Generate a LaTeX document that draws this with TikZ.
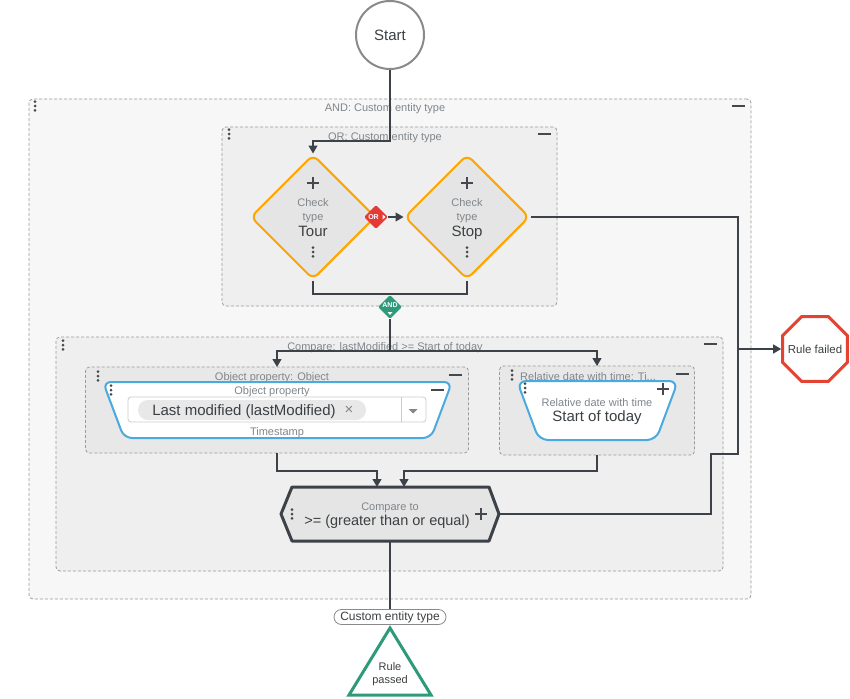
\documentclass[tikz,border=0pt]{standalone}
\usepackage{fontspec}
\setmainfont{Liberation Sans}
\usetikzlibrary{shapes.geometric,arrows.meta}
\definecolor{lin}{HTML}{3C4248}
\definecolor{txt}{HTML}{3C4043}
\definecolor{lblgray}{HTML}{80868B}
\definecolor{grpline}{HTML}{9A9A9A}
\definecolor{andfill}{HTML}{F7F7F7}
\definecolor{orfill}{HTML}{EFEFEF}
\definecolor{innfill}{HTML}{E8E8E8}
\definecolor{diafill}{HTML}{E5E5E5}
\definecolor{orng}{HTML}{FFA500}
\definecolor{orred}{HTML}{E53935}
\definecolor{teal}{HTML}{2E9A7A}
\definecolor{blu}{HTML}{4AAAE0}
\definecolor{failred}{HTML}{E44332}
\definecolor{dotc}{HTML}{45494E}
\definecolor{startgray}{HTML}{8A8A8A}
\tikzset{
  grp/.style={draw=grpline, dash pattern=on 3pt off 2pt, rounded corners=4pt, inner sep=0, line width=0.8pt},
  conn/.style={draw=lin, line width=1.2pt},
  arr/.style={conn, -{Triangle[length=8pt,width=9pt]}},
  lbl/.style={text=lblgray, font=\fontsize{11}{13}\selectfont, inner sep=0, text height=8pt, text depth=2.3pt, yshift=-1.5pt},
  mtext/.style={text=txt, font=\fontsize{15}{17}\selectfont, inner sep=0, text height=10.8pt, text depth=3.2pt, yshift=-1.5pt},
  stext/.style={text=txt, font=\fontsize{11.5}{13.5}\selectfont, inner sep=0},
  checkbox/.style={diamond, draw=orng, line width=2pt, fill=diafill, minimum width=125pt, minimum height=125pt, inner sep=0, rounded corners=7pt},
  vdots/.pic={\fill[dotc] (0,-4.3) circle[radius=1.5pt] (0,0) circle[radius=1.5pt] (0,4.3) circle[radius=1.5pt];},
  plus/.pic={\draw[line width=1.6pt,dotc] (-6,0)--(6,0) (0,-6)--(0,6);},
  minus/.pic={\draw[line width=2pt,dotc] (-6.5,0)--(6.5,0);},
}
\begin{document}
\begin{tikzpicture}[x=1pt,y=-1pt]
\useasboundingbox[fill=white] (0,0) rectangle (850,698);

% groups
\node[grp, fill=andfill, minimum width=722pt, minimum height=500pt] (andgrp) at (390,349) {};
\node[lbl] (andlbl) at (385,107.5) {AND: Custom entity type};
\pic at (35,106) {vdots};
\pic at (738,106) {minus};

\node[grp, fill=orfill, minimum width=335pt, minimum height=179pt] (orgrp) at (389.5,216.5) {};
\node[lbl] (orlbl) at (385,136) {OR: Custom entity type};
\pic at (229,134) {vdots};
\pic at (544,134) {minus};

\node[grp, fill=orfill, minimum width=667pt, minimum height=234pt] (cmpgrp) at (389.5,454) {};
\node[lbl] (cmplbl) at (385,346) {Compare: lastModified >= Start of today};
\pic at (63,345) {vdots};
\pic at (710,344) {minus};

\node[grp, fill=innfill, minimum width=383pt, minimum height=86pt] (opgrp) at (277,410) {};
\node[lbl] (oplbl) at (272,376.5) {Object property: Object};
\pic at (98,376) {vdots};
\pic at (455,375) {minus};

\node[grp, fill=innfill, minimum width=195pt, minimum height=89pt] (rdgrp) at (597,410.5) {};
\node[lbl, anchor=west] (rdlbl) at (520,376) {Relative date with time: Ti...};
\pic at (512,375) {vdots};
\pic at (682,374) {minus};

% start
\node[circle, draw=startgray, line width=2pt, fill=white, minimum size=68pt, inner sep=0] (start) at (390,35) {};
\node[mtext] (startt) at (390,35) {Start};

% check type diamonds
\node[checkbox] (tour) at (313,217) {};
\pic at (313,183) {plus};
\node[lbl] (tourc) at (313,202.5) {Check};
\node[lbl] (tourt) at (313,216) {type};
\node[mtext] (tourn) at (313,231) {Tour};
\pic at (313,252) {vdots};

\node[checkbox] (stop) at (467,217) {};
\pic at (467,183) {plus};
\node[lbl] (stopc) at (467,202.5) {Check};
\node[lbl] (stopt) at (467,216) {type};
\node[mtext] (stopn) at (467,231) {Stop};
\pic at (467,252) {vdots};

% OR badge
\node[diamond, fill=orred, minimum width=24pt, minimum height=24pt, inner sep=0, rounded corners=1.5pt] (orb) at (376,217) {};
\node[text=white, font=\fontsize{7}{8}\selectfont\bfseries, inner sep=0] (orbt) at (373.5,217) {OR};
\fill[white] (382.5,214.5) -- (385.5,217) -- (382.5,219.5) -- cycle;

% AND badge
\node[diamond, fill=teal, minimum width=24pt, minimum height=24pt, inner sep=0, rounded corners=1.5pt] (andb) at (390,307) {};
\node[text=white, font=\fontsize{7}{8}\selectfont\bfseries, inner sep=0] (andbt) at (390,305.5) {AND};
\fill[white] (387.5,312) -- (392.5,312) -- (390,315) -- cycle;

% object property trapezoid
\draw[draw=blu, line width=2pt, fill=white, rounded corners=8pt] (103,382) -- (452,382) -- (431,438) -- (124,438) -- cycle;
\pic at (111,390) {vdots};
\pic at (437,390) {minus};
\node[lbl] (opt) at (272,390.5) {Object property};
\draw[draw=black!20, line width=0.8pt, rounded corners=3pt] (128,397) rectangle (426,422);
\draw[draw=black!20, line width=0.8pt] (401,397) -- (401,422);
\fill[lblgray] (408.5,409) -- (417.5,409) -- (413,413.5) -- cycle;
\node[fill=innfill, rounded corners=10pt, minimum width=228pt, minimum height=20pt, inner sep=0] (pillbg) at (252,410) {};
\node[mtext] (lastmod) at (244,410) {Last modified (lastModified)};
\node[text=lblgray, font=\fontsize{15}{16}\selectfont, inner sep=0] (xmark) at (349,410) {×};
\node[lbl] (tstamp) at (277,431) {Timestamp};

% relative date trapezoid
\draw[draw=blu, line width=2pt, fill=white, rounded corners=9pt] (517,381) -- (678,381) -- (656,440) -- (539,440) -- cycle;
\pic at (525,388) {vdots};
\pic at (663,389) {plus};
\node[lbl] (rdt) at (597,402) {Relative date with time};
\node[mtext] (rdv) at (597,416.5) {Start of today};

% compare hexagon
\node[minimum width=218pt, minimum height=54pt, inner sep=0] (cmp) at (390,514) {};
\draw[draw=lin, line width=3pt, fill=diafill, line join=round] (281,514) -- (292,487) -- (489,487) -- (499,514) -- (489,541) -- (292,541) -- cycle;
\pic at (292,514) {vdots};
\pic at (481,514) {plus};
\node[lbl] (cmpt) at (390,506) {Compare to};
\node[mtext, font=\fontsize{14.5}{16}\selectfont] (cmpv) at (387,520.5) {>= (greater than or equal)};

% rule failed
\node[regular polygon, regular polygon sides=8, draw=failred, line width=3pt, fill=white, minimum size=70pt, inner sep=0] (fail) at (815,349) {};
\node[stext] (failt) at (815,349.5) {Rule failed};

% pill and rule passed
\node[draw=startgray, line width=0.8pt, fill=white, rounded corners=7.5pt, minimum width=112pt, minimum height=15pt, inner sep=0, stext, font=\fontsize{12}{14}\selectfont] (pill) at (390,617) {Custom entity type};
\draw[draw=teal, line width=3pt, fill=white, line join=miter] (390,628) -- (431,695) -- (349,695) -- cycle;
\node[stext, align=center, font=\fontsize{11}{13}\selectfont] (passed) at (390,674.5) {Rule\\passed};

% connectors
\coordinate (j1) at (390,141);
\draw[arr] (start.south) -- (j1) -| (tour.north);
\draw[arr] (orb.east) -- (stop.west);
\coordinate (j2) at (313,294);
\coordinate (j3) at (467,294);
\draw[conn] (tour.south) -- (j2) -- (j3) -- (stop.south);
\coordinate (j4) at (390,351);
\coordinate (opin) at (277,367);
\coordinate (rdin) at (597,366);
\draw[conn] (andb.south) -- (j4);
\draw[arr] (j4) -| (opin);
\draw[arr] (j4) -| (rdin);
\coordinate (j5) at (277,471);
\coordinate (j6) at (597,471);
\coordinate (cin1) at (377,487);
\coordinate (cin2) at (404,487);
\draw[arr] (opgrp.south) -- (j5) -| (cin1);
\draw[arr] (rdgrp.south) -- (j6) -| (cin2);
\coordinate (r1) at (738,217);
\coordinate (r2) at (738,454);
\coordinate (r3) at (711,454);
\coordinate (r4) at (711,514);
\coordinate (rj) at (738,349);
\draw[conn] (stop.east) -- (r1) -- (r2) -- (r3) -- (r4) -- (cmp.east);
\draw[arr] (rj) -- (fail.west);
\draw[conn] (cmp.south) -- (pill.north);
\end{tikzpicture}
\end{document}
